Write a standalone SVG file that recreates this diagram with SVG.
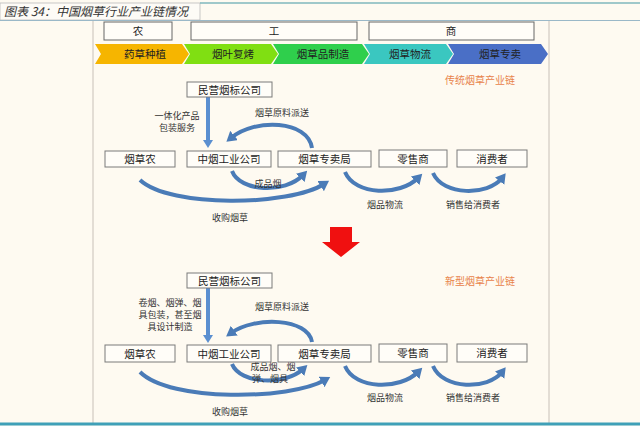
<svg xmlns="http://www.w3.org/2000/svg" width="640" height="426" viewBox="0 0 640 426">
<defs>
<style>
.t{font-family:"Noto Sans CJK SC","Noto Sans",sans-serif;fill:#222;text-anchor:middle}
.n{font-size:10.5px}
.l{font-size:9px;fill:#333}
.box{fill:#fffdf8;stroke:#7a7a7a;stroke-width:1}
.hb{fill:#fffdf8;stroke:#666;stroke-width:1}
.ca{fill:none;stroke:#4a7bb7;stroke-width:4;stroke-linecap:butt}
.va{fill:none;stroke:#5b8fd0;stroke-width:4}
.o{font-size:10px;fill:#e8824a}
</style>
<marker id="ah" markerUnits="userSpaceOnUse" markerWidth="12" markerHeight="12" refX="4" refY="6" orient="auto">
<path d="M0,0 L10,6 L0,12 z" fill="#4a7bb7"/>
</marker>
<marker id="av" markerUnits="userSpaceOnUse" markerWidth="10" markerHeight="10" refX="3" refY="5" orient="auto">
<path d="M0,0 L8,5 L0,10 z" fill="#5b8fd0"/>
</marker>
</defs>
<rect x="0" y="0" width="640" height="426" fill="#fefaf1"/>
<g id="title">
<rect x="0" y="3" width="200" height="17" fill="#fdfbf6" stroke="#bbb" stroke-width="0.8"/>
<line x1="200" y1="3" x2="640" y2="3" stroke="#7fb7bd" stroke-width="1.5"/>
<line x1="0" y1="20.5" x2="640" y2="20.5" stroke="#9ab8c8" stroke-width="1"/>
<text x="4" y="16" font-family="'Noto Sans CJK SC',sans-serif" font-size="12" font-style="italic" fill="#333">图表 34：中国烟草行业产业链情况</text>
</g>
<g id="frame">
<line x1="93" y1="21" x2="93" y2="423" stroke="#c8c0b8" stroke-width="1"/>
<line x1="549" y1="21" x2="549" y2="423" stroke="#c8c0b8" stroke-width="1"/>
<line x1="0" y1="424" x2="640" y2="424" stroke="#3fa0b8" stroke-width="3"/>
</g>
<g id="header">
<rect class="hb" x="104" y="22" width="68" height="18"/>
<text class="t n" x="138" y="35">农</text>
<rect class="hb" x="191" y="22" width="166" height="18"/>
<text class="t n" x="274" y="35">工</text>
<rect class="hb" x="369" y="22" width="165" height="18"/>
<text class="t n" x="451" y="35">商</text>
</g>
<g id="chevrons">
<path d="M95,44 L182,44 L189,54 L182,64 L95,64 L101,54 z" fill="#f6b500"/>
<path d="M184,44 L271,44 L278,54 L271,64 L184,64 L190,54 z" fill="#80df12"/>
<path d="M273,44 L362,44 L369,54 L362,64 L273,64 L279,54 z" fill="#2fcf4c"/>
<path d="M364,44 L446,44 L453,54 L446,64 L364,64 L370,54 z" fill="#3ac7c0"/>
<path d="M448,44 L541,44 L548,54 L541,64 L448,64 L454,54 z" fill="#4a6fc6"/>
<text class="t n" x="145" y="58">药草种植</text>
<text class="t n" x="233" y="58">烟叶复烤</text>
<text class="t n" x="323" y="58">烟草品制造</text>
<text class="t n" x="410" y="58">烟草物流</text>
<text class="t n" x="500" y="58">烟草专卖</text>
</g>
<g id="connectors">
<path class="va" d="M208,97 L208,143" marker-end="url(#av)"/>
<path class="ca" d="M312,148 C308,120 255,118 231,138" marker-end="url(#ah)"/>
<path class="ca" d="M232,171 C240,192 285,194 303,175" marker-end="url(#ah)"/>
<path class="ca" d="M140,180 C170,208 290,206 324,184" marker-end="url(#ah)"/>
<path class="ca" d="M345,172 C355,196 400,196 418,178" marker-end="url(#ah)"/>
<path class="ca" d="M433,173 C443,196 488,196 502,178" marker-end="url(#ah)"/>
<path class="va" d="M208,288 L208,338" marker-end="url(#av)"/>
<path class="ca" d="M312,342 C308,318 255,316 231,333" marker-end="url(#ah)"/>
<path class="ca" d="M232,364 C240,384 285,386 303,369" marker-end="url(#ah)"/>
<path class="ca" d="M140,372 C170,402 290,400 325,380" marker-end="url(#ah)"/>
<path class="ca" d="M345,366 C355,390 400,390 418,372" marker-end="url(#ah)"/>
<path class="ca" d="M433,366 C443,390 488,390 502,372" marker-end="url(#ah)"/>
</g>
<g id="labels">
<text class="t o" x="480" y="84">传统烟草产业链</text>
<text class="t l" x="177" y="119">一体化产品</text>
<text class="t l" x="177" y="131">包装服务</text>
<text class="t l" x="282" y="116">烟草原料派送</text>
<text class="t l" x="268" y="187">成品烟</text>
<text class="t l" x="230" y="221">收购烟草</text>
<text class="t l" x="385" y="208">烟品物流</text>
<text class="t l" x="473" y="208">销售给消费者</text>
<text class="t o" x="480" y="285">新型烟草产业链</text>
<text class="t l" x="170" y="306">卷烟、烟弹、烟</text>
<text class="t l" x="170" y="318">具包装，甚至烟</text>
<text class="t l" x="170" y="330">具设计制造</text>
<text class="t l" x="282" y="310">烟草原料派送</text>
<text class="t l" x="273" y="370">成品烟、烟</text>
<text class="t l" x="270" y="382">弹、烟具</text>
<text class="t l" x="230" y="415">收购烟草</text>
<text class="t l" x="385" y="401">烟品物流</text>
<text class="t l" x="473" y="401">销售给消费者</text>
</g>
<g id="n1"><rect class="box" x="187" y="82" width="85" height="15"/><text class="t n" x="229.5" y="93.5">民营烟标公司</text></g>
<g id="n2"><rect class="box" x="105" y="151" width="70" height="16"/><text class="t n" x="140" y="163">烟草农</text></g>
<g id="n3"><rect class="box" x="187" y="151" width="84" height="16"/><text class="t n" x="229" y="163">中烟工业公司</text></g>
<g id="n4"><rect class="box" x="278" y="151" width="93" height="16"/><text class="t n" x="324.5" y="163">烟草专卖局</text></g>
<g id="n5"><rect class="box" x="379" y="150" width="68" height="17"/><text class="t n" x="413" y="162.5">零售商</text></g>
<g id="n6"><rect class="box" x="457" y="150" width="70" height="17"/><text class="t n" x="492" y="162.5">消费者</text></g>
<g id="bigArrow"><path d="M330,227 L352,227 L352,242 L360,242 L341,257 L322,242 L330,242 z" fill="#f01010"/></g>
<g id="m1"><rect class="box" x="187" y="273" width="85" height="15"/><text class="t n" x="229.5" y="284.5">民营烟标公司</text></g>
<g id="m2"><rect class="box" x="105" y="345" width="70" height="17"/><text class="t n" x="140" y="357.5">烟草农</text></g>
<g id="m3"><rect class="box" x="187" y="345" width="84" height="17"/><text class="t n" x="229" y="357.5">中烟工业公司</text></g>
<g id="m4"><rect class="box" x="278" y="345" width="93" height="17"/><text class="t n" x="324.5" y="357.5">烟草专卖局</text></g>
<g id="m5"><rect class="box" x="379" y="344" width="68" height="18"/><text class="t n" x="413" y="357">零售商</text></g>
<g id="m6"><rect class="box" x="457" y="344" width="70" height="18"/><text class="t n" x="492" y="357">消费者</text></g>
</svg>
